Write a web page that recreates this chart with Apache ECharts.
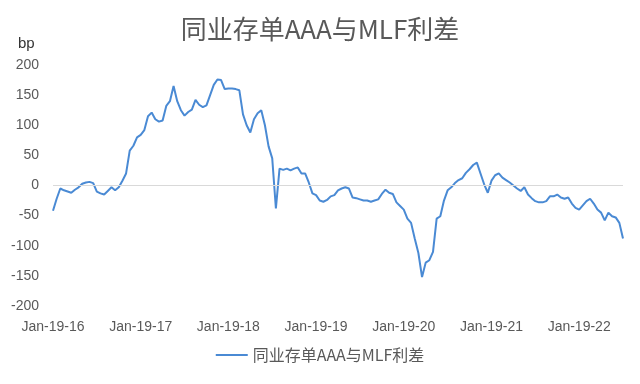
<!DOCTYPE html>
<html><head><meta charset="utf-8">
<script src="https://cdn.jsdelivr.net/npm/echarts@6/dist/echarts.min.js"></script>
<style>html,body{margin:0;padding:0;background:#fff}#c{width:640px;height:384px}</style>
</head><body><div id="c"></div>
<script>
// ---- data ----
const chartTitle = '同业存单AAA与MLF利差';
const seriesName = '同业存单AAA与MLF利差';
const yUnit = 'bp';
const xStartYear = 16;           // first tick: Jan-19-16
const xLabelPrefix = 'Jan-19-';
const stepYears = 1 / 24;        // one value every half month from 2016-01-19
const yMin = -200, yMax = 200, yInterval = 50;
const spread = [
  -42, -22, -5, -8, -10, -12, -7, -3, 3, 5,
  6, 4, -10, -13, -15, -9, -3, -8, -3, 8,
  20, 58, 66, 80, 84, 92, 115, 121, 110, 106,
  108, 132, 140, 165, 140, 125, 116, 122, 126, 142,
  134, 130, 133, 150, 167, 176, 175, 160, 161, 161,
  160, 158, 118, 100, 88, 110, 120, 125, 100, 65,
  45, -38, 28, 26, 28, 25, 28, 30, 20, 20,
  5, -13, -16, -25, -27, -24, -18, -16, -8, -5,
  -3, -5, -20, -21, -23, -25, -25, -27, -25, -23,
  -14, -7, -12, -14, -28, -34, -40, -55, -62, -88,
  -112, -152, -128, -124, -110, -55, -51, -25, -8, -3,
  4, 9, 12, 21, 27, 34, 38, 20, 2, -12,
  8, 17, 20, 13, 9, 5, 0, -5, -9, -3,
  -15, -21, -26, -28, -28, -26, -18, -18, -15, -20,
  -22, -20, -30, -37, -40, -33, -26, -22, -30, -40,
  -45, -58, -45, -51, -53, -62, -88
];
// ---- chart ----
const points = spread.map((v, i) => [i * stepYears, v]);
const xMax = (spread.length - 1) * stepYears;
const txt = '#595959';
const lineColor = '#4a8ad4';
const chart = echarts.init(document.getElementById('c'));
chart.setOption({
  backgroundColor: '#ffffff',
  animation: false,
  title: {
    text: chartTitle, left: 'center', top: 11,
    textStyle: { fontSize: 26, fontWeight: 'normal', color: txt, fontFamily: 'Noto Sans CJK SC' }
  },
  graphic: [{
    type: 'text', left: 18, top: 36,
    style: { text: yUnit, fontSize: 15, fill: '#333', fontFamily: 'Liberation Sans' }
  }],
  legend: {
    bottom: 16, left: 'center', itemWidth: 32, itemHeight: 2, icon: 'rect',
    itemStyle: { color: lineColor },
    textStyle: { fontSize: 16, color: txt, fontFamily: 'Noto Sans CJK SC' },
    data: [seriesName]
  },
  grid: { left: 53, right: 17, top: 65, bottom: 78, containLabel: false },
  xAxis: {
    type: 'value', min: 0, max: xMax, interval: 1,
    axisLine: { show: false }, axisTick: { show: false }, splitLine: { show: false },
    axisLabel: {
      margin: 14, fontSize: 14, color: txt, fontFamily: 'Liberation Sans',
      formatter: v => Math.abs(v - Math.round(v)) < 1e-6 ? xLabelPrefix + (xStartYear + Math.round(v)) : ''
    }
  },
  yAxis: {
    type: 'value', min: yMin, max: yMax, interval: yInterval,
    axisLine: { show: false }, axisTick: { show: false }, splitLine: { show: false },
    axisLabel: { margin: 14, fontSize: 14, color: txt, fontFamily: 'Liberation Sans' }
  },
  series: [{
    name: seriesName, type: 'line', data: points, symbol: 'none',
    lineStyle: { color: lineColor, width: 2 }, itemStyle: { color: lineColor },
    markLine: {
      silent: true, symbol: ['none', 'none'], label: { show: false },
      lineStyle: { color: '#d9d9d9', type: 'solid', width: 1 },
      emphasis: { disabled: true },
      data: [{ yAxis: 0 }]
    }
  }]
});
</script></body></html>
